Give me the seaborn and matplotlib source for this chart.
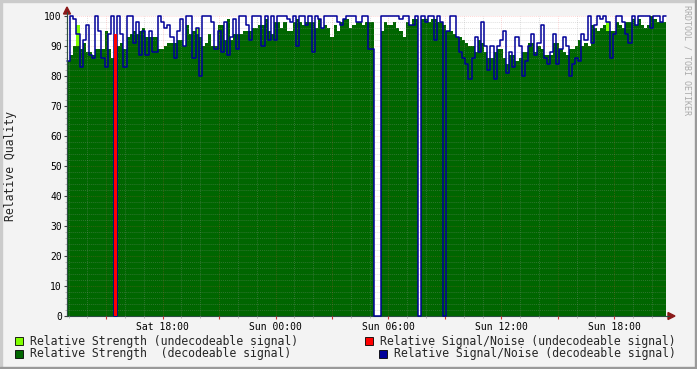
import pandas as pd
import matplotlib
matplotlib.use('Agg')
import matplotlib.pyplot as plt
import matplotlib.dates as mdates
from matplotlib.ticker import MultipleLocator, FuncFormatter
from matplotlib.patches import Rectangle, Polygon
from matplotlib.lines import Line2D
import seaborn as sns

W, H = 697, 369

# one sample every 10 minutes, first one Sat 12:55 (2000-01-01 was a Saturday)
start_time = '2000-01-01 12:55'
sample_step = '10min'

strength_decodeable = [
    85, 87, 90, 90, 89, 91, 88, 88, 87, 89,
    89, 89, 95, 89, 86, 0, 90, 91, 89, 93,
    94, 95, 94, 95, 96, 93, 93, 93, 93, 89,
    89, 90, 91, 91, 91, 92, 92, 90, 97, 94,
    95, 94, 93, 90, 91, 94, 90, 90, 97, 97,
    92, 99, 92, 94, 94, 94, 95, 95, 95, 96,
    96, 97, 97, 99, 95, 94, 98, 98, 96, 98,
    95, 95, 98, 99, 98, 97, 98, 98, 98, 96,
    99, 96, 97, 96, 93, 97, 95, 98, 99, 99,
    96, 97, 98, 98, 97, 98, 98, 98, 0, 0,
    95, 98, 97, 97, 98, 96, 95, 93, 98, 97,
    99, 99, 0, 99, 99, 98, 99, 99, 98, 98,
    97, 95, 95, 94, 93, 93, 92, 91, 90, 90,
    88, 92, 91, 88, 86, 86, 88, 89, 89, 86,
    84, 87, 87, 85, 86, 88, 88, 91, 91, 88,
    90, 89, 87, 87, 87, 91, 91, 89, 88, 87,
    89, 89, 90, 92, 90, 91, 90, 97, 96, 95,
    96, 97, 95, 95, 95, 98, 97, 96, 98, 98,
    99, 97, 99, 97, 96, 97, 100, 99, 98, 98,
    98,
]

snr_decodeable = [
    85, 100, 99, 94, 83, 92, 97, 87, 86, 100,
    95, 86, 83, 94, 100, 0, 100, 94, 83, 100,
    100, 91, 98, 87, 95, 87, 95, 88, 88, 100,
    98, 96, 97, 93, 86, 95, 99, 90, 100, 100,
    86, 96, 80, 100, 100, 100, 98, 89, 95, 88,
    98, 87, 93, 99, 89, 100, 100, 97, 92, 100,
    100, 100, 90, 100, 92, 100, 92, 100, 100, 100,
    99, 98, 100, 90, 100, 100, 97, 100, 88, 100,
    99, 96, 100, 100, 100, 100, 98, 97, 99, 100,
    100, 100, 98, 98, 100, 100, 89, 89, 0, 0,
    100, 100, 100, 100, 100, 100, 99, 100, 100, 97,
    97, 100, 0, 100, 98, 100, 100, 92, 100, 98,
    0, 95, 100, 100, 93, 88, 86, 84, 79, 86,
    93, 88, 98, 90, 82, 90, 79, 90, 92, 95,
    81, 88, 83, 93, 90, 80, 85, 90, 94, 87,
    91, 97, 86, 84, 88, 94, 84, 89, 93, 90,
    80, 84, 86, 85, 94, 92, 100, 91, 97, 100,
    99, 100, 98, 86, 94, 100, 100, 98, 94, 91,
    100, 97, 100, 100, 100, 100, 96, 100, 100, 98,
    100,
]

# the few samples with an undecodeable signal (sample index, value)
undec_strength_at = [3, 15, 41, 172]
undec_strength = [97, 86, 96, 98]
undec_snr_at = [15]
undec_snr = [94]

legend_labels = [
    'Relative Strength (undecodeable signal)',
    'Relative Strength  (decodeable signal)',
    'Relative Signal/Noise (undecodeable signal)',
    'Relative Signal/Noise (decodeable signal)',
]
colors = ['#80FF00', '#006600', '#FF0000', '#000099']

n = len(strength_decodeable)
df = pd.DataFrame({'time': pd.date_range(start_time, periods=n + 1, freq=sample_step)})
# repeat the last value so the last step gets drawn
df['strength'] = strength_decodeable + [strength_decodeable[-1]]
df['snr'] = snr_decodeable + [snr_decodeable[-1]]
df['strength_undec'] = 0.0
df.loc[undec_strength_at, 'strength_undec'] = undec_strength
df['snr_undec'] = 0.0
df.loc[undec_snr_at, 'snr_undec'] = undec_snr

sns.set_theme(style='white')
plt.rcParams['font.family'] = ['DejaVu Sans Mono']


def fx(px):
    return px / W


def fy(py):
    return 1 - py / H


fig = plt.figure(figsize=(W / 100, H / 100), dpi=100, facecolor='#F3F3F3')
ax = fig.add_axes([fx(67), fy(316), (666 - 67) / W, 300 / H])
ax.set_facecolor('white')

ax.fill_between(df['time'], 0, df['strength_undec'], step='post', color=colors[0], lw=0, zorder=1)
ax.fill_between(df['time'], 0, df['strength'], step='post', color=colors[1], lw=0, zorder=1.1)
sns.lineplot(data=df, x='time', y='snr', drawstyle='steps-post', color=colors[3], lw=1.1,
             ax=ax, zorder=3, clip_on=False, legend=False)
# red SNR spike on top so it stays visible between the blue edges
ax.fill_between(df['time'], 0, df['snr_undec'], step='post', color=colors[2], lw=0, zorder=3.5)

ax.set_xlim(df['time'].iloc[0], df['time'].iloc[-1])
ax.set_ylim(0, 100)
ax.set_xlabel('')
ax.set_ylabel('')


def hour_label(v, pos):
    d = mdates.num2date(v)
    return d.strftime('%a %H:%M') if d.hour % 6 == 0 else ''


ax.xaxis.set_major_locator(mdates.HourLocator(byhour=range(0, 24, 3)))
ax.xaxis.set_minor_locator(mdates.HourLocator())
ax.xaxis.set_major_formatter(FuncFormatter(hour_label))
ax.yaxis.set_major_locator(MultipleLocator(10))
ax.yaxis.set_minor_locator(MultipleLocator(2))

ax.set_axisbelow(False)
ax.grid(which='minor', color='#999999', alpha=0.3, lw=0.7, ls=(0, (1, 1)))
ax.grid(which='major', color='#FF5050', alpha=0.22, lw=0.7, ls=(0, (1, 1)))

ax.tick_params(which='both', bottom=True, left=True, direction='out')
ax.tick_params(axis='x', which='major', length=2.5, width=0.8, color='#CC3333', pad=2, labelsize=7)
ax.tick_params(axis='x', which='minor', length=1.5, width=0.6, color='#AAAAAA')
ax.tick_params(axis='y', which='major', length=2.2, width=0.8, color='#404040', pad=1.5, labelsize=7)
ax.tick_params(axis='y', which='minor', length=1.2, width=0.6, color='#AAAAAA')
for lab in ax.get_xticklabels() + ax.get_yticklabels():
    lab.set_color('black')

for s in ['top', 'right']:
    ax.spines[s].set_visible(False)
for s in ['left', 'bottom']:
    ax.spines[s].set_color('#2C4D43')
    ax.spines[s].set_linewidth(0.8)

# axis extensions with arrow heads
arrow_c = '#8B1A1A'
fig.add_artist(Line2D([fx(67), fx(67)], [fy(316), fy(12)], color='#2C4D43', lw=0.8))
fig.add_artist(Line2D([fx(666), fx(669)], [fy(316), fy(316)], color='#2C4D43', lw=0.8))
fig.add_artist(Polygon([(fx(63.5), fy(14)), (fx(70.5), fy(14)), (fx(67), fy(7))], closed=True,
                       color=arrow_c, transform=fig.transFigure))
fig.add_artist(Polygon([(fx(668), fy(312.5)), (fx(668), fy(319.5)), (fx(675), fy(316))], closed=True,
                       color=arrow_c, transform=fig.transFigure))

fig.text(fx(11), fy(166), 'Relative Quality', rotation=90, ha='center', va='center', fontsize=8.3)
fig.text(fx(687), fy(60), 'RRDTOOL / TOBI OETIKER', rotation=270, ha='center', va='center',
         fontsize=6, color='#AAAAAA')

# legend, two rows
legend_pos = [(15, 30, 341), (15, 30, 354), (365, 380, 341), (379, 394, 354)]
for (bx, tx, cy), label, c in zip(legend_pos, legend_labels, colors):
    fig.add_artist(Rectangle((fx(bx), fy(cy + 4)), 8 / W, 8 / H, facecolor=c, edgecolor='black',
                             lw=0.6, transform=fig.transFigure))
    fig.text(fx(tx), fy(cy), label, ha='left', va='center', fontsize=8.3)

# shaded frame round the image
fig.add_artist(Rectangle((0, fy(2)), 1, 2 / H, color='#CBCBCB', transform=fig.transFigure))
fig.add_artist(Rectangle((0, 0), 2 / W, 1, color='#CBCBCB', transform=fig.transFigure))
fig.add_artist(Rectangle((0, 0), 1, 2 / H, color='#999999', transform=fig.transFigure))
fig.add_artist(Rectangle((fx(695), 0), 2 / W, 1, color='#999999', transform=fig.transFigure))

fig.savefig('out.png', dpi=100, facecolor=fig.get_facecolor())
